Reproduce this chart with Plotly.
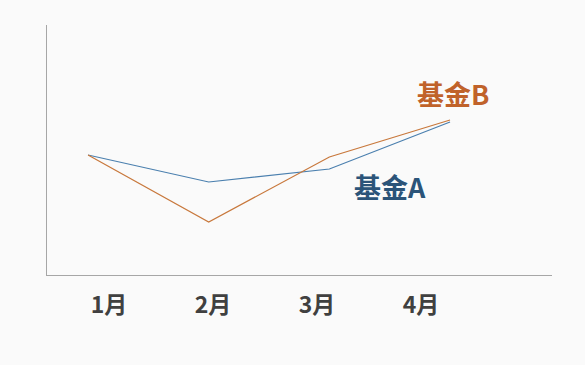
import plotly.graph_objects as go

months = ["1月", "2月", "3月", "4月"]
fund_a = [48, 37.2, 42.4, 61.2]
fund_b = [48, 21.2, 47.2, 62.0]
series_names = ["基金A", "基金B"]

blue = "#4a7fae"
orange = "#c8783c"
font_family = "Noto Sans CJK SC, Noto Sans, sans-serif"

fig = go.Figure()
fig.add_trace(go.Scatter(x=months, y=fund_a, mode="lines", name=series_names[0],
                         line=dict(color=blue, width=1.2), xaxis="x", yaxis="y"))
fig.add_trace(go.Scatter(x=months, y=fund_b, mode="lines", name=series_names[1],
                         line=dict(color=orange, width=1.2), xaxis="x", yaxis="y"))
# invisible trace to carry tick labels on the label axis
fig.add_trace(go.Scatter(x=months, y=fund_a, mode="lines", opacity=0, hoverinfo="skip",
                         showlegend=False, xaxis="x2", yaxis="y"))

fig.add_annotation(x="4月", y=fund_b[3], xref="x", yref="y", text="<b>基金B</b>",
                   showarrow=False, xshift=3, yshift=27,
                   font=dict(family=font_family, size=27, color="#c0622a"))
fig.add_annotation(x="3月", y=fund_a[2], xref="x", yref="y", text="<b>基金A</b>",
                   showarrow=False, xshift=61, yshift=-17,
                   font=dict(family=font_family, size=27, color="#2b5479"))

fig.update_layout(
    width=585, height=365,
    margin=dict(l=47, r=33, t=25, b=90),
    paper_bgcolor="#fafafa", plot_bgcolor="#fafafa",
    showlegend=False,
    xaxis=dict(type="category", range=[-0.34, 3.845], showline=True, linecolor="#a6a6a6",
               linewidth=1.3, showgrid=False, zeroline=False, showticklabels=False, ticks=""),
    xaxis2=dict(type="category", overlaying="x", side="bottom", anchor="y",
                range=[-0.596, 4.26], showline=False, showgrid=False, zeroline=False,
                ticks="outside", ticklen=9, tickcolor="rgba(0,0,0,0)",
                tickfont=dict(family=font_family, size=23, color="#404040", weight="bold")),
    yaxis=dict(range=[0, 100], showline=True, linecolor="#a6a6a6", linewidth=1.3,
               showgrid=False, zeroline=False, showticklabels=False, ticks=""),
)

fig.write_html("out.html")
